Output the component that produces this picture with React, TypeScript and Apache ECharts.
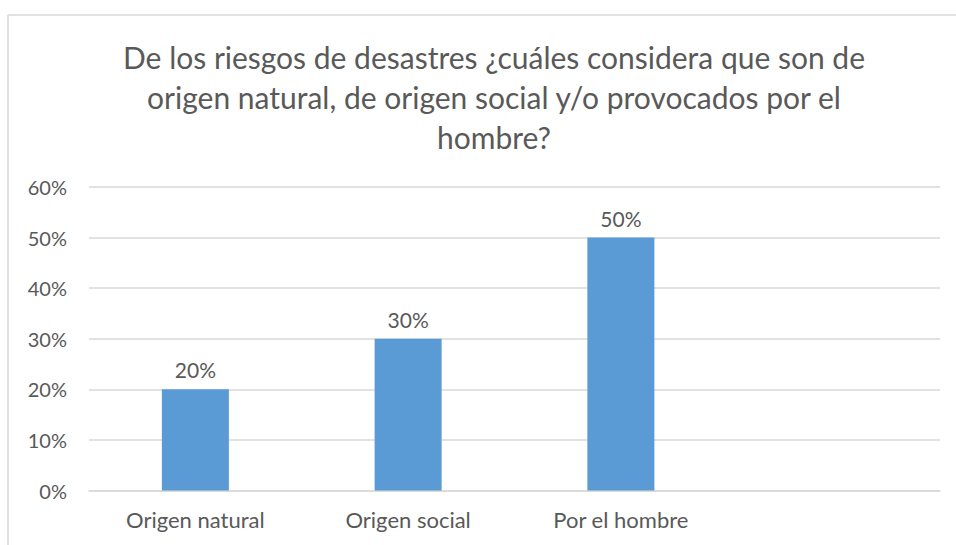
import React, { useEffect, useRef } from "react";
import * as echarts from "echarts";

const categories = ["Origen natural", "Origen social", "Por el hombre", ""];
const values = [20, 30, 50, null];
const yTicks = [0, 10, 20, 30, 40, 50, 60];
const titleLines = [
  "De los riesgos de desastres ¿cuáles considera que son de",
  "origen natural, de origen social y/o provocados por el",
  "hombre?",
];

export default function App() {
  const ref = useRef<HTMLDivElement>(null);
  useEffect(() => {
    if (!ref.current) return;
    const chart = echarts.init(ref.current, undefined, { renderer: "svg" });
    const font = "Lato";
    chart.setOption({
      animation: false,
      backgroundColor: "#ffffff",
      title: {
        text: titleLines.join("\n"),
        left: 489,
        textAlign: "center",
        top: 32,
        textStyle: {
          fontFamily: font,
          fontSize: 30,
          fontWeight: "normal",
          color: "#595959",
          lineHeight: 40,
        },
      },
      graphic: [
        { type: "line", shape: { x1: 8, y1: 15, x2: 956, y2: 15 }, style: { stroke: "#d9d9d9", lineWidth: 1.5 } },
        { type: "line", shape: { x1: 8, y1: 15, x2: 8, y2: 545 }, style: { stroke: "#d9d9d9", lineWidth: 1.5 } },
      ],
      grid: { left: 89, right: 16, top: 187, bottom: 54.5, containLabel: false },
      xAxis: {
        type: "category",
        data: categories,
        axisLine: { show: true, lineStyle: { color: "#d9d9d9", width: 1.5 } },
        axisTick: { show: false },
        axisLabel: { fontFamily: font, fontSize: 22, color: "#595959", margin: 18 },
      },
      yAxis: {
        type: "value",
        min: yTicks[0],
        max: yTicks[yTicks.length - 1],
        interval: 10,
        axisLine: { show: false },
        axisTick: { show: false },
        splitLine: { lineStyle: { color: "#d9d9d9", width: 1.5 } },
        axisLabel: {
          fontFamily: font,
          fontSize: 20,
          color: "#595959",
          margin: 22,
          formatter: (v: number) => `${v}%`,
        },
      },
      series: [
        {
          type: "bar",
          data: values,
          barWidth: "31.5%",
          itemStyle: { color: "#5B9BD5" },
          label: {
            show: true,
            position: "top",
            distance: 9,
            fontFamily: font,
            fontSize: 21,
            color: "#595959",
            formatter: (p: any) => `${p.value}%`,
          },
        },
      ],
    });
    return () => chart.dispose();
  }, []);
  return (
    <div
      ref={ref}
      style={{ position: "fixed", left: 0, top: 0, width: 956, height: 545 }}
    />
  );
}
